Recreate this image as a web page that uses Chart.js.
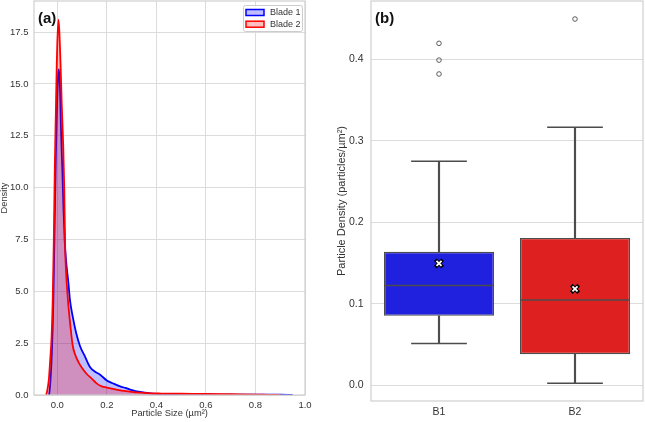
<!DOCTYPE html>
<html>
<head>
<meta charset="utf-8">
<script src="https://cdn.jsdelivr.net/npm/chart.js@4.4.1/dist/chart.umd.min.js"></script>
<style>
  html, body { margin: 0; padding: 0; background: #fff; }
  #wrap { position: relative; width: 645px; height: 422px; overflow: hidden; }
  canvas { position: absolute; top: 0; }
  #sizeChart { left: 0; }
  #boxChart { left: 330px; }
</style>
</head>
<body>
<div id="wrap">
  <canvas id="sizeChart" width="330" height="422"></canvas>
  <canvas id="boxChart" width="315" height="422"></canvas>
</div>
<script>
// (a) particle size density curves
const blade1X = [-0.033, -0.028, -0.022, -0.016, -0.011, -0.006, -0.001, 0.004, 0.007, 0.011, 0.015, 0.020, 0.025, 0.030, 0.036, 0.045, 0.051, 0.062, 0.076, 0.092, 0.112, 0.132, 0.153, 0.173, 0.200, 0.213, 0.227, 0.254, 0.275, 0.294, 0.315, 0.335, 0.362, 0.400, 0.450, 0.500, 0.600, 0.700, 0.800, 0.900, 0.950]
const blade1Y = [0, 0.6, 2.0, 4.5, 8.0, 11.5, 14.0, 15.5, 15.7, 14.8, 12.8, 11.0, 9.0, 7.4, 6.4, 5.4, 4.6, 3.8, 3.0, 2.35, 1.85, 1.35, 1.12, 0.98, 0.70, 0.62, 0.55, 0.42, 0.34, 0.26, 0.19, 0.15, 0.10, 0.05, 0.035, 0.03, 0.025, 0.02, 0.02, 0.015, 0.005]
const blade2X = [-0.045, -0.040, -0.034, -0.028, -0.023, -0.018, -0.014, -0.010, -0.006, -0.002, 0.004, 0.008, 0.013, 0.018, 0.024, 0.028, 0.032, 0.036, 0.038, 0.045, 0.055, 0.062, 0.072, 0.085, 0.100, 0.120, 0.140, 0.160, 0.180, 0.200, 0.230, 0.260, 0.300, 0.340, 0.380, 0.420, 0.500, 0.600, 0.700, 0.800, 0.850, 0.900]
const blade2Y = [0, 0.25, 0.75, 1.8, 2.8, 4.8, 7.5, 11.0, 13.5, 16.0, 18.1, 17.6, 16.0, 14.0, 12.0, 10.0, 7.0, 5.8, 5.4, 4.3, 3.1, 2.4, 1.95, 1.6, 1.3, 1.0, 0.78, 0.55, 0.42, 0.36, 0.28, 0.21, 0.15, 0.11, 0.08, 0.07, 0.06, 0.05, 0.035, 0.02, 0.01, 0]
const sizeTicks = [0, 0.2, 0.4, 0.6, 0.8, 1.0]
const densityTicks = [0, 2.5, 5, 7.5, 10, 12.5, 15, 17.5]

// (b) particle density box plots
const blades = ['B1', 'B2']
const q1 = [0.0854, 0.0384]
const medians = [0.1227, 0.1047]
const q3 = [0.164, 0.181]
const whiskerLow = [0.0515, 0.0028]
const whiskerHigh = [0.275, 0.3166]
const means = [0.1497, 0.1185]
const outliers = [[0.4196, 0.399, 0.382], [0.4494]]
const pdTicks = [0, 0.1, 0.2, 0.3, 0.4]

const FONT = '"Liberation Sans", Arial, sans-serif'
Chart.defaults.font.family = FONT
Chart.defaults.color = '#333'
const gridColor = '#dcdcdc'
const edgeGray = '#4c4c4c'

const framePlugin = {
  id: 'frame',
  afterDatasetsDraw(chart) {
    const {ctx, chartArea: a} = chart
    ctx.save()
    ctx.strokeStyle = '#cfcfcf'
    ctx.lineWidth = 1.2
    ctx.strokeRect(a.left, a.top, a.right - a.left, a.bottom - a.top)
    ctx.restore()
  }
}

const tagPlugin = {
  id: 'tag',
  afterDraw(chart, args, opts) {
    const {ctx, chartArea: a} = chart
    ctx.save()
    ctx.font = 'bold 15px ' + FONT
    ctx.fillStyle = '#111'
    ctx.textBaseline = 'alphabetic'
    ctx.fillText(opts.text, a.left + 4, a.top + 22)
    ctx.restore()
  }
}

const kdeLegend = {
  id: 'kdeLegend',
  afterDraw(chart) {
    const {ctx, chartArea: a} = chart
    const w = 59, h = 26
    const x0 = a.right - 3 - w, y0 = a.top + 4
    ctx.save()
    ctx.fillStyle = 'rgba(255,255,255,0.85)'
    ctx.strokeStyle = '#cccccc'
    ctx.lineWidth = 1
    ctx.beginPath()
    ctx.roundRect(x0 + 0.5, y0 + 0.5, w, h, 2)
    ctx.fill()
    ctx.stroke()
    ctx.font = '9px ' + FONT
    ctx.textBaseline = 'middle'
    chart.data.datasets.forEach((ds, i) => {
      const y = y0 + 4.5 + i * 11.7
      ctx.fillStyle = ds.backgroundColor
      ctx.fillRect(x0 + 3, y, 18, 6)
      ctx.strokeStyle = ds.borderColor
      ctx.lineWidth = 1.5
      ctx.strokeRect(x0 + 3, y, 18, 6)
      ctx.fillStyle = '#333'
      ctx.fillText(ds.label, x0 + 27, y + 3.2)
    })
    ctx.restore()
  }
}

const toPoints = (xs, ys) => xs.map((x, i) => ({x: x, y: ys[i]}))
const fixTicks = (list) => (scale) => { scale.ticks = list.map((v) => ({value: v})) }
// fixed axis box sizes, no label overhang padding
const fixWidth = (w) => (s) => { s.width = w; s.paddingTop = 0; s.paddingBottom = 0 }
const fixHeight = (h) => (s) => { s.height = h; s.paddingLeft = 0; s.paddingRight = 0 }

new Chart(document.getElementById('sizeChart'), {
  type: 'scatter',
  data: {
    datasets: [{
      label: 'Blade 1',
      data: toPoints(blade1X, blade1Y),
      borderColor: '#0000ff',
      backgroundColor: 'rgba(0,0,255,0.25)',
      borderWidth: 1.8,
      showLine: true,
      fill: 'origin',
      pointRadius: 0,
      cubicInterpolationMode: 'monotone',
      order: 1
    }, {
      label: 'Blade 2',
      data: toPoints(blade2X, blade2Y),
      borderColor: '#ff0000',
      backgroundColor: 'rgba(255,0,0,0.25)',
      borderWidth: 1.8,
      showLine: true,
      fill: 'origin',
      pointRadius: 0,
      cubicInterpolationMode: 'monotone',
      order: 0
    }]
  },
  options: {
    responsive: false,
    animation: false,
    events: [],
    layout: { autoPadding: false, padding: { left: 0, top: 1, right: 25, bottom: 0 } },
    scales: {
      x: {
        type: 'linear',
        min: -0.094,
        max: 1.0,
        afterBuildTicks: fixTicks(sizeTicks),
        grid: { color: gridColor, lineWidth: 1, drawTicks: false },
        border: { display: false },
        ticks: { font: { size: 9.5 }, padding: 4.3, callback: (v) => v.toFixed(1) },
        title: { display: true, text: 'Particle Size (µm²)', font: { size: 9.3 }, padding: { top: 0, bottom: 3.4 } },
        afterFit: fixHeight(27)
      },
      y: {
        min: 0,
        max: 19.0,
        afterBuildTicks: fixTicks(densityTicks),
        grid: { color: gridColor, lineWidth: 1, drawTicks: false },
        border: { display: false },
        ticks: { font: { size: 9.5 }, padding: 5.5, callback: (v) => v.toFixed(1) },
        title: { display: true, text: 'Density', font: { size: 9.3 }, padding: { top: -1.5, bottom: 0 } },
        afterFit: fixWidth(34)
      }
    },
    plugins: {
      legend: { display: false },
      tooltip: { enabled: false },
      tag: { text: '(a)' }
    }
  },
  plugins: [framePlugin, tagPlugin, kdeLegend]
})

const catWidth = (c) => {
  const s = c.chart.scales.x
  return s.getPixelForValue(1) - s.getPixelForValue(0)
}

const capPoints = []
const medianPoints = []
const meanPoints = []
const outlierPoints = []
blades.forEach((b, i) => {
  capPoints.push({x: b, y: whiskerLow[i]}, {x: b, y: whiskerHigh[i]})
  medianPoints.push({x: b, y: medians[i]})
  meanPoints.push({x: b, y: means[i]})
  outliers[i].forEach((v) => outlierPoints.push({x: b, y: v}))
})

new Chart(document.getElementById('boxChart'), {
  type: 'bar',
  data: {
    labels: blades,
    datasets: [{
      type: 'line',
      data: meanPoints,
      showLine: false,
      pointStyle: 'crossRot',
      pointRadius: 3.6,
      pointBorderWidth: 1.8,
      pointBorderColor: '#ffffff',
      order: 0
    }, {
      type: 'line',
      data: meanPoints,
      showLine: false,
      pointStyle: 'crossRot',
      pointRadius: 5.2,
      pointBorderWidth: 3.8,
      pointBorderColor: '#000000',
      order: 1
    }, {
      type: 'line',
      data: outlierPoints,
      showLine: false,
      pointStyle: 'circle',
      pointRadius: 2.3,
      pointBorderWidth: 0.9,
      pointBorderColor: edgeGray,
      pointBackgroundColor: 'rgba(0,0,0,0)',
      order: 2
    }, {
      type: 'line',
      data: capPoints,
      showLine: false,
      pointStyle: 'line',
      pointRadius: (c) => catWidth(c) * 0.205,
      pointBorderWidth: 1.5,
      pointBorderColor: edgeGray,
      order: 3
    }, {
      type: 'line',
      data: medianPoints,
      showLine: false,
      pointStyle: 'line',
      pointRadius: (c) => catWidth(c) * 0.4,
      pointBorderWidth: 1.5,
      pointBorderColor: edgeGray,
      order: 4
    }, {
      data: blades.map((b, i) => [q1[i], q3[i]]),
      backgroundColor: ['rgb(32,32,223)', 'rgb(223,32,32)'],
      borderColor: edgeGray,
      borderWidth: 1.4,
      borderSkipped: false,
      barPercentage: 0.81,
      categoryPercentage: 1,
      grouped: false,
      order: 5
    }, {
      data: blades.map((b, i) => [whiskerLow[i], q1[i]]),
      backgroundColor: edgeGray,
      barThickness: 1.5,
      grouped: false,
      order: 6
    }, {
      data: blades.map((b, i) => [q3[i], whiskerHigh[i]]),
      backgroundColor: edgeGray,
      barThickness: 1.5,
      grouped: false,
      order: 7
    }]
  },
  options: {
    responsive: false,
    animation: false,
    events: [],
    layout: { autoPadding: false, padding: { left: 0, top: 1, right: 2, bottom: 0 } },
    scales: {
      x: {
        offset: true,
        grid: { display: false, drawTicks: false },
        border: { display: false },
        ticks: { font: { size: 10.5 }, padding: 4.4 },
        afterFit: fixHeight(21)
      },
      y: {
        min: -0.019,
        max: 0.4715,
        afterBuildTicks: fixTicks(pdTicks),
        grid: { color: gridColor, lineWidth: 1, drawTicks: false },
        border: { display: false },
        ticks: { font: { size: 10.5 }, padding: 7.5, callback: (v) => v.toFixed(1) },
        title: { display: true, text: 'Particle Density (particles/µm²)', font: { size: 11 }, padding: { top: 5, bottom: 0 } },
        afterFit: fixWidth(41)
      }
    },
    plugins: {
      legend: { display: false },
      tooltip: { enabled: false },
      tag: { text: '(b)' }
    }
  },
  plugins: [framePlugin, tagPlugin]
})
</script>
</body>
</html>
